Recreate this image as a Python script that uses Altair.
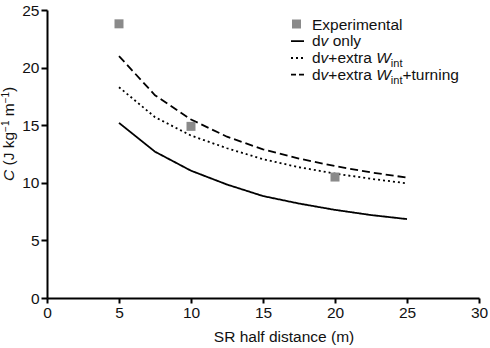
import altair as alt
import pandas as pd

# ---- data ----
half_distance = [5, 7.5, 10, 12.5, 15, 17.5, 20, 22.5, 25]
dv_only = [15.2, 12.7, 11.05, 9.85, 8.85, 8.2, 7.65, 7.2, 6.85]
dv_wint = [18.3, 15.7, 14.1, 13.0, 12.05, 11.35, 10.8, 10.35, 9.95]
dv_wint_turn = [21.0, 17.6, 15.5, 14.0, 12.9, 12.1, 11.45, 10.9, 10.45]
exp_x = [5, 10, 20]
exp_y = [23.8, 14.9, 10.5]
series_names = ["dv only", "dv+extra Wint", "dv+extra Wint+turning"]

x_ticks = [0, 5, 10, 15, 20, 25, 30]
y_ticks = [0, 5, 10, 15, 20, 25]

FONT = "Liberation Sans"
FS = 15.5
TXT = "#111111"

rows = []
for name, vals in zip(series_names, [dv_only, dv_wint, dv_wint_turn]):
    for x, y in zip(half_distance, vals):
        rows.append({"x": x, "y": y, "series": name})
lines_df = pd.DataFrame(rows)
exp_df = pd.DataFrame({"x": exp_x, "y": exp_y})

xscale = alt.Scale(domain=[0, 30], nice=False)
yscale = alt.Scale(domain=[0, 25], nice=False)

axis_common = dict(
    domainColor="black", domainWidth=2, tickColor="black", tickWidth=2,
    grid=False, labelFont=FONT, labelFontSize=FS, labelColor=TXT,
    titleFont=FONT, titleFontSize=FS, titleColor=TXT, titleFontWeight="normal",
)

x_axis = alt.Axis(values=x_ticks, tickSize=5, labelPadding=2,
                  title="SR half distance (m)", titleX=236.5, titleY=43,
                  titleAlign="center", titleBaseline="alphabetic",
                  labelFlush=False, **axis_common)
y_axis = alt.Axis(values=y_ticks, tickSize=6, labelPadding=2, title=None,
                  labelFlush=False, **axis_common)

lines = alt.Chart(lines_df).mark_line(color="black", strokeWidth=1.8).encode(
    x=alt.X("x:Q", scale=xscale, axis=x_axis),
    y=alt.Y("y:Q", scale=yscale, axis=y_axis),
    strokeDash=alt.StrokeDash("series:N", scale=alt.Scale(
        domain=series_names, range=[[1, 0], [2, 3], [8, 4]]), legend=None),
    detail="series:N",
)

points = alt.Chart(exp_df).mark_square(size=81, color="#8a8a8a", opacity=1).encode(
    x=alt.X("x:Q", scale=xscale),
    y=alt.Y("y:Q", scale=yscale),
)

# ---- legend (manual, for italic v / W and subscript int) ----
LX = 265      # text start (plot coords)
SX0, SX1 = 244, 257
row_y = [19.5, 36.2, 53, 69.7]
layers = [lines, points]

def txt(s, x, y, size=FS, style="normal", angle=0):
    return alt.Chart(pd.DataFrame({"t": [s]})).mark_text(
        font=FONT, fontSize=size, fontStyle=style, color=TXT, align="left",
        baseline="alphabetic", angle=angle,
    ).encode(text="t:N", x=alt.value(x), y=alt.value(y))

def w(s, size=FS):
    widths = {"d": 556, "v": 500, "+": 584, "e": 556, "x": 500, "t": 278,
              "r": 333, "a": 556, " ": 278, "W": 944, "i": 222, "n": 556,
              "u": 556, "g": 556, "o": 556, "l": 222, "y": 500, "C": 722,
              "(": 333, ")": 333, "J": 500, "k": 500, "m": 833, "−": 584, "1": 556}
    return sum(widths[c] for c in s) * size / 1000

legend_sq = alt.Chart(pd.DataFrame({"t": ["Experimental"]})).mark_square(
    size=81, color="#8a8a8a", opacity=1).encode(x=alt.value(249.5), y=alt.value(14))
layers.append(legend_sq)
layers.append(txt("Experimental", LX, row_y[0]))

dashes = [[1, 0], [2, 3], [5, 3]]
for i, name in enumerate(series_names):
    yy = row_y[i + 1] - 5
    layers.append(alt.Chart(pd.DataFrame({"s": [name]})).mark_rule(
        color="black", strokeWidth=1.8, strokeDash=dashes[i]).encode(
        x=alt.value(SX0), x2=alt.value(SX1), y=alt.value(yy)))

SUB = 11
for i in range(3):
    yb = row_y[i + 1]
    x = LX
    layers.append(txt("d", x, yb)); x += w("d")
    layers.append(txt("v", x, yb, style="italic")); x += w("v")
    if i == 0:
        layers.append(txt("only", x + w(" "), yb))
        continue
    layers.append(txt("+extra", x, yb)); x += w("+extra ")
    layers.append(txt("W", x, yb, style="italic")); x += w("W")
    layers.append(txt("int", x, yb + 4, size=SUB)); x += (222 + 556 + 278) * SUB / 1000
    if i == 2:
        layers.append(txt("+turning", x, yb))

# ---- y axis title (rotated, manual for italic C and superscripts) ----
TX = -33.5
SUPS = 10
SHIFT = 4.5
ty = 171
layers.append(txt("C", TX, ty, style="italic", angle=270)); ty -= w("C ")
layers.append(txt("(J kg", TX, ty, angle=270)); ty -= w("(J kg")
layers.append(txt("−1", TX - SHIFT, ty, size=SUPS, angle=270)); ty -= w("−1", SUPS) + w(" ")
layers.append(txt("m", TX, ty, angle=270)); ty -= w("m")
layers.append(txt("−1", TX - SHIFT, ty, size=SUPS, angle=270)); ty -= w("−1", SUPS)
layers.append(txt(")", TX, ty, angle=270))

chart = alt.layer(*layers).properties(
    width=432, height=288,
    autosize=alt.AutoSizeParams(type="none"),
    padding={"left": 47, "top": 10, "right": 11, "bottom": 50},
    background="white",
).configure_view(stroke=None)

chart.save("out.html", embed_options={"renderer": "svg", "actions": False})
